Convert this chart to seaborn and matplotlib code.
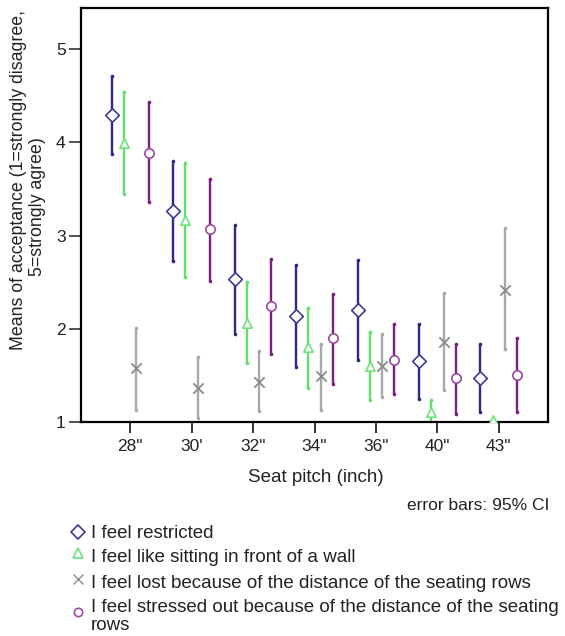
import matplotlib
matplotlib.use("Agg")
import matplotlib.pyplot as plt
from matplotlib import font_manager
import seaborn as sns
import pandas as pd
import numpy as np

##################
#Data#############
##################

pitch_labels = ['28"', "30'", '32"', '34"', '36"', '40"', '43"']

restricted_mean = [4.29, 3.26, 2.53, 2.14, 2.20, 1.65, 1.47]
restricted_low = [3.87, 2.73, 1.94, 1.59, 1.66, 1.25, 1.11]
restricted_high = [4.71, 3.80, 3.11, 2.68, 2.74, 2.05, 1.84]

wall_mean = [3.99, 3.17, 2.06, 1.80, 1.60, 1.11, 1.02]
wall_low = [3.45, 2.56, 1.63, 1.37, 1.24, 1.00, 1.02]
wall_high = [4.54, 3.78, 2.50, 2.22, 1.96, 1.24, 1.02]

lost_mean = [1.58, 1.37, 1.43, 1.49, 1.60, 1.86, 2.42]
lost_low = [1.13, 1.04, 1.12, 1.13, 1.27, 1.34, 1.78]
lost_high = [2.01, 1.70, 1.76, 1.84, 1.94, 2.38, 3.08]

stressed_mean = [3.89, 3.07, 2.24, 1.90, 1.66, 1.47, 1.50]
stressed_low = [3.36, 2.51, 1.73, 1.41, 1.30, 1.09, 1.11]
stressed_high = [4.43, 3.61, 2.75, 2.37, 2.05, 1.84, 1.90]

series_names = ["I feel restricted",
                "I feel like sitting in front of a wall",
                "I feel lost because of the distance of the seating rows",
                "I feel stressed out because of the distance of the seating\nrows"]

##################
#Table############
##################

rows = []
all_series = [(restricted_mean, restricted_low, restricted_high),
              (wall_mean, wall_low, wall_high),
              (lost_mean, lost_low, lost_high),
              (stressed_mean, stressed_low, stressed_high)]
for ii in range(len(series_names)):
    m, lo, hi = all_series[ii]
    for jj in range(len(pitch_labels)):
        rows.append([series_names[ii], ii, jj, m[jj], lo[jj], hi[jj]])
df = pd.DataFrame(rows, columns=["series", "s_idx", "pitch", "mean", "low", "high"])

offsets = [-0.3, -0.1, 0.1, 0.3]
df["xpos"] = df["pitch"] + df["s_idx"].map(lambda k: offsets[k])

bar_colors = ["#2a2a86", "#5fe06b", "#a8a8a8", "#7d1f80"]
mark_colors = ["#3b3b94", "#6ee27a", "#8a8a8a", "#9a4a9e"]
markers = ["D", "^", "x", "o"]
sizes = [48, 45, 55, 45]

##################
#Plot#############
##################

sns.set_theme(style="white")
plt.rcParams['font.family'] = ['Liberation Sans', 'DejaVu Sans']
text_col = "#222222"

# narrow face for the legend if there is one
try:
    font_manager.findfont('Liberation Sans Narrow', fallback_to_default=False)
    leg_family, leg_size = ['Liberation Sans Narrow', 'DejaVu Sans'], 15.5
except Exception:
    leg_family, leg_size = ['Liberation Sans', 'DejaVu Sans'], 13.5

fig = plt.figure(figsize=(5.65, 6.36), dpi=100)
ax = fig.add_axes([81/565, 1-422/636, (548-81)/565, (422-8)/636])

for ii in range(len(series_names)):
    sub = df[df["s_idx"] == ii]
    ax.vlines(sub["xpos"], sub["low"], sub["high"], color=bar_colors[ii], lw=1.7, zorder=2)
    ax.scatter(sub["xpos"], sub["low"], s=2.5, color=bar_colors[ii], zorder=2)
    ax.scatter(sub["xpos"], sub["high"], s=2.5, color=bar_colors[ii], zorder=2)
    if markers[ii] == "x":
        sns.scatterplot(data=sub, x="xpos", y="mean", marker="x", s=sizes[ii],
                        color=mark_colors[ii], linewidth=1.3, ax=ax, zorder=3)
    else:
        sns.scatterplot(data=sub, x="xpos", y="mean", marker=markers[ii], s=sizes[ii],
                        facecolor="white", edgecolor=mark_colors[ii], linewidth=1.2,
                        ax=ax, zorder=3)

ax.set_xlim(-0.8, 6.8)
ax.set_ylim(1, 5.44)
ax.set_xticks(range(len(pitch_labels)))
ax.set_xticklabels(pitch_labels)
ax.set_yticks([1, 2, 3, 4, 5])
ax.set_xlabel("")
ax.set_ylabel("")
ax.tick_params(axis="x", direction="out", length=8, width=1.4, colors="#333333",
               labelsize=12.5, labelcolor=text_col, bottom=True, pad=4)
ax.tick_params(axis="y", direction="out", length=9, width=1.2, colors="#333333",
               labelsize=12.5, labelcolor=text_col, left=True, pad=2)
for sp in ax.spines.values():
    sp.set_linewidth(1.6)
    sp.set_color("black")

fig.text(19/565, 1-180/636, "Means of acceptance (1=strongly disagree,", rotation=90,
         ha="center", va="center", fontsize=12.8, color=text_col)
fig.text(37/565, 1-207/636, "5=strongly agree)", rotation=90,
         ha="center", va="center", fontsize=12.8, color=text_col)
fig.text(316/565, 1-478/636, "Seat pitch (inch)", ha="center", va="center",
         fontsize=13.5, color=text_col)
fig.text(549/565, 1-506/636, "error bars: 95% CI", ha="right", va="center",
         fontsize=12.5, color=text_col)

##################
#Legend###########
##################

# legend drawn by hand in pixel coordinates, SPSS style
lax = fig.add_axes([0, 0, 1, 1])
lax.set_xlim(0, 565)
lax.set_ylim(636, 0)
lax.axis("off")

leg_mark_y = [532, 553, 579, 612]
leg_text_y = [533, 558, 583, 607]
leg_ms = [7.5, 6.5, 6.5, 6]
for ii in range(len(series_names)):
    if markers[ii] == "x":
        lax.plot(78, leg_mark_y[ii], marker="x", ls="none", color=mark_colors[ii],
                 ms=leg_ms[ii], mew=1.0)
    else:
        lax.plot(78, leg_mark_y[ii], marker=markers[ii], ls="none", markerfacecolor="white",
                 markeredgecolor=mark_colors[ii], ms=leg_ms[ii], mew=1.2)
    lines = series_names[ii].split("\n")
    lax.text(91, leg_text_y[ii], lines[0], ha="left", va="center",
             fontsize=leg_size, family=leg_family, color=text_col)
    if len(lines) > 1:
        lax.text(91, leg_text_y[ii] + 18, lines[1], ha="left", va="center",
                 fontsize=leg_size, family=leg_family, color=text_col)

plt.savefig("out.png", dpi=100)
plt.close()
